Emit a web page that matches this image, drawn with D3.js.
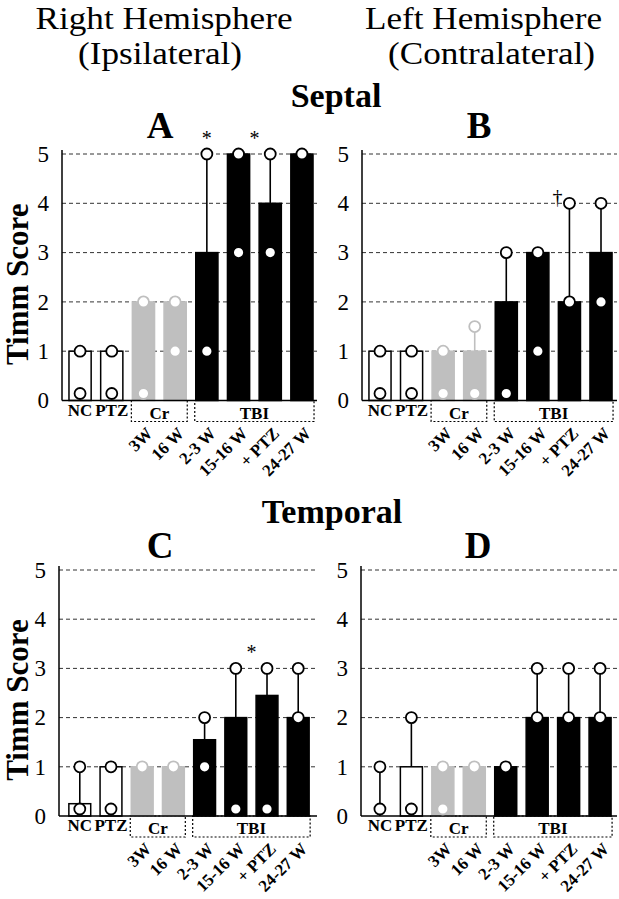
<!DOCTYPE html>
<html>
<head>
<meta charset="utf-8">
<script src="https://cdn.jsdelivr.net/npm/d3@7"></script>
<style>
  html, body { margin: 0; padding: 0; background: #fff; }
  svg { display: block; }
  text { font-family: 'Liberation Serif', 'Times New Roman', Times, serif; fill: #000; }
</style>
</head>
<body>
<svg id="chart" width="619" height="899"></svg>
<script>
// ---------------- DATA ----------------
const categories = ["NC", "PTZ", "3W", "16 W", "2-3 W", "15-16 W", "+ PTZ", "24-27 W"];
const catGroup   = ["ctrl", "ctrl", "cr", "cr", "tbi", "tbi", "tbi", "tbi"];
const groupNames = ["Cr", "TBI"];
const yTicks = [0, 1, 2, 3, 4, 5];

// Panel A – Septal, right hemisphere
const meansA = [1, 1, 2, 2, 3, 5, 4, 5];
const highsA = [null, null, null, null, 5, null, 5, null];
const dotsA  = [[1, 0], [1, 0], [2, 0], [2, 1], [5, 1], [5, 3], [5, 3], [5]];
const sigA   = [{cats: ["2-3 W"], sym: "*", level: 5}, {cats: ["15-16 W", "+ PTZ"], sym: "*", level: 5}];

// Panel B – Septal, left hemisphere
const meansB = [1, 1, 1, 1, 2, 3, 2, 3];
const highsB = [null, null, null, 1.5, 3, null, 4, 4];
const dotsB  = [[1, 0], [1, 0], [1, 0], [1.5, 0], [3, 0], [3, 1], [4, 2], [4, 2]];
const sigB   = [{cats: ["+ PTZ"], sym: "†", level: 4}];

// Panel C – Temporal, right hemisphere
const meansC = [0.25, 1, 1, 1, 1.55, 2, 2.45, 2];
const highsC = [1, null, null, null, 2, 3, 3, 3];
const dotsC  = [[1, 0], [1, 0], [1], [1], [2, 1], [3, 0], [3, 0], [3, 2]];
const sigC   = [{cats: ["15-16 W", "+ PTZ"], sym: "*", level: 3}];

// Panel D – Temporal, left hemisphere
const meansD = [0, 1, 1, 1, 1, 2, 2, 2];
const highsD = [1, 2, null, null, null, 3, 3, 3];
const dotsD  = [[1, 0], [2, 0], [1, 0], [1], [1], [3, 2], [3, 2], [3, 2]];
const sigD   = [];

// ---------------- LAYOUT ----------------
const FONT = "'Liberation Serif', 'Times New Roman', Times, serif";
const colors = { ctrl: {fill: "#fff", stroke: "#000"}, cr: {fill: "#bfbfbf", stroke: "#bfbfbf"}, tbi: {fill: "#000", stroke: "#000"} };
const panels = [
  {label: "A", means: meansA, highs: highsA, dots: dotsA, sig: sigA, axisX: 62,  band: [62, 320],  gridEnd: 317, y0: 400.5, y5: 154, letterX: 160, letterY: 138, showY: true},
  {label: "B", means: meansB, highs: highsB, dots: dotsB, sig: sigB, axisX: 362, band: [362, 619], gridEnd: 617, y0: 400.5, y5: 154, letterX: 479, letterY: 138, showY: false},
  {label: "C", means: meansC, highs: highsC, dots: dotsC, sig: sigC, axisX: 59,  band: [62, 316],  gridEnd: 317, y0: 816, y5: 570, letterX: 160, letterY: 558, showY: true},
  {label: "D", means: meansD, highs: highsD, dots: dotsD, sig: sigD, axisX: 361, band: [362, 618], gridEnd: 617, y0: 816, y5: 570, letterX: 478, letterY: 558, showY: false}
];

const svg = d3.select("#chart");

function txt(sel) { return sel.append("text").attr("font-family", FONT); }

// Titles
function stretchedText(t, cx, y, size, len) {
  txt(svg).attr("x", cx).attr("y", y).attr("text-anchor", "middle")
    .attr("font-size", size).attr("textLength", len).attr("lengthAdjust", "spacingAndGlyphs").text(t);
}
stretchedText("Right Hemisphere", 164, 29, 31, 257);
stretchedText("(Ipsilateral)", 160, 64, 31, 164);
stretchedText("Left Hemisphere", 483.5, 29, 31, 237);
stretchedText("(Contralateral)", 491.5, 64, 31, 207);
txt(svg).attr("x", 336).attr("y", 107).attr("text-anchor", "middle")
  .attr("font-size", 34).attr("font-weight", "bold").text("Septal");
txt(svg).attr("x", 332).attr("y", 523).attr("text-anchor", "middle")
  .attr("font-size", 34).attr("font-weight", "bold").text("Temporal");

const R = 5.5;

panels.forEach(p => {
  const g = svg.append("g");
  const y = d3.scaleLinear().domain([0, 5]).range([p.y0, p.y5]);
  const x = d3.scaleBand().domain(categories).range(p.band).paddingInner(0.3).paddingOuter(0.22);
  const bw = x.bandwidth();
  const cx = c => x(c) + bw / 2;

  // panel letter
  txt(g).attr("x", p.letterX).attr("y", p.letterY).attr("text-anchor", "middle")
    .attr("font-size", 37).attr("font-weight", "bold").text(p.label);

  // gridlines
  g.selectAll(".grid").data(yTicks.filter(t => t > 0)).join("line")
    .attr("x1", p.axisX).attr("x2", p.gridEnd)
    .attr("y1", d => y(d)).attr("y2", d => y(d))
    .attr("stroke", "#333").attr("stroke-width", 1).attr("stroke-dasharray", "4,3");

  // y axis labels via d3 axis
  const ax = g.append("g").attr("transform", `translate(${p.axisX},0)`)
    .call(d3.axisLeft(y).tickValues(yTicks).tickFormat(d3.format("d")).tickSize(0).tickPadding(13));
  ax.select(".domain").remove();
  ax.attr("font-family", FONT);
  ax.selectAll("text").attr("font-size", 23).attr("font-family", FONT).attr("fill", "#000");

  // group boxes
  groupNames.forEach(gn => {
    const key = gn === "Cr" ? "cr" : "tbi";
    const cats = categories.filter((c, i) => catGroup[i] === key);
    const x1 = x(cats[0]) - 1, x2 = x(cats[cats.length - 1]) + bw + 1;
    g.append("rect").attr("x", x1).attr("y", p.y0).attr("width", x2 - x1).attr("height", 21)
      .attr("fill", "none").attr("stroke", "#000").attr("stroke-width", 1.2).attr("stroke-dasharray", "2,2");
    txt(g).attr("x", (x1 + x2) / 2).attr("y", p.y0 + 18).attr("text-anchor", "middle")
      .attr("font-size", 17).attr("font-weight", "bold").text(gn);
  });

  // category labels
  categories.forEach((c, i) => {
    if (catGroup[i] === "ctrl") {
      txt(g).attr("x", cx(c)).attr("y", p.y0 + 15).attr("text-anchor", "middle")
        .attr("font-size", 17).attr("font-weight", "bold").text(c);
    } else {
      const ax0 = cx(c) + 10, ay0 = p.y0 + 34;
      txt(g).attr("transform", `translate(${ax0},${ay0}) rotate(-45)`)
        .attr("text-anchor", "end").attr("font-size", 17).attr("font-weight", "bold").text(c);
    }
  });

  // error lines
  categories.forEach((c, i) => {
    if (p.highs[i] == null) return;
    g.append("line").attr("x1", cx(c)).attr("x2", cx(c))
      .attr("y1", y(p.means[i])).attr("y2", y(p.highs[i]))
      .attr("stroke", colors[catGroup[i]].stroke).attr("stroke-width", 1.6);
  });

  // bars
  g.selectAll(".bar").data(categories).join("rect")
    .attr("x", d => x(d)).attr("width", bw)
    .attr("y", (d, i) => y(p.means[i])).attr("height", (d, i) => y(0) - y(p.means[i]))
    .attr("fill", (d, i) => colors[catGroup[i]].fill)
    .attr("stroke", (d, i) => colors[catGroup[i]].stroke)
    .attr("stroke-width", (d, i) => p.means[i] > 0 ? 1.5 : 0);

  // baseline + axis line
  g.append("line").attr("x1", p.axisX).attr("x2", p.gridEnd).attr("y1", y(0)).attr("y2", y(0))
    .attr("stroke", "#000").attr("stroke-width", 1.5);
  g.append("line").attr("x1", p.axisX).attr("x2", p.axisX).attr("y1", y(0)).attr("y2", y(5) - 4)
    .attr("stroke", "#000").attr("stroke-width", 1.5);

  // dots
  categories.forEach((c, i) => {
    p.dots[i].forEach(v => {
      g.append("circle").attr("cx", cx(c)).attr("cy", Math.min(y(v), y(0) - R - 1.5)).attr("r", R)
        .attr("fill", "#fff").attr("stroke", colors[catGroup[i]].stroke).attr("stroke-width", 1.8);
    });
  });

  // significance marks
  p.sig.forEach(s => {
    const mx = d3.mean(s.cats, c => cx(c));
    if (s.sym === "*") {
      txt(g).attr("x", mx).attr("y", y(s.level) - 9).attr("text-anchor", "middle")
        .attr("font-size", 20).text(s.sym);
    } else {
      txt(g).attr("x", mx - 12).attr("y", y(s.level) + 1).attr("text-anchor", "middle")
        .attr("font-size", 20).text(s.sym);
    }
  });

  // y axis title
  if (p.showY) {
    txt(g).attr("transform", `translate(28,${y(2.5) + 7}) rotate(-90)`)
      .attr("text-anchor", "middle").attr("font-size", 31).attr("font-weight", "bold").text("Timm Score");
  }
});
</script>
</body>
</html>
